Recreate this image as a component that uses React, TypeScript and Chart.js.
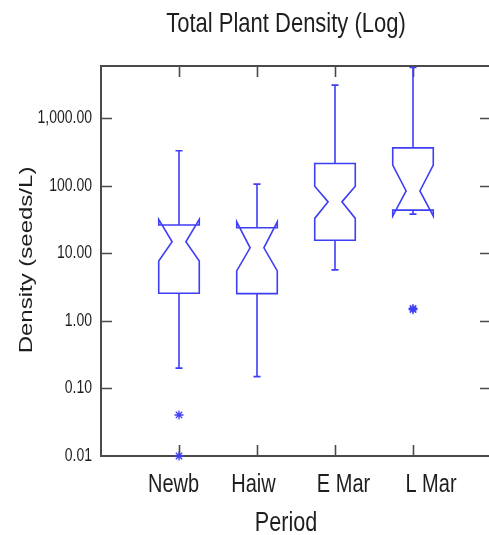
import React, { useEffect, useRef } from 'react';
import { Chart, registerables } from 'chart.js';

Chart.register(...registerables);

// ---- data ----
const categories = ['Newb', 'Haiw', 'E Mar', 'L Mar'];
const whiskerLow = [0.2, 0.15, 5.7, 38.2];
const q1 = [2.57, 2.54, 15.7, 43.8];
const median = [14.9, 12.1, 58, 84];
const q3 = [26.3, 24, 215, 366];
const whiskerHigh = [331, 106, 3100, 5670];
const notchLow = [7.7, 5.5, 33, 35.7];
const notchHigh = [31.9, 29.4, 99, 203];
const outliers: number[][] = [[0.0405, 0.01], [], [], [1.47, 1.53]];
const yTicks = [0.01, 0.1, 1, 10, 100, 1000];
const yTickLabels = ['0.01', '0.10', '1.00', '10.00', '100.00', '1,000.00'];
const yMin = 0.01;
const yMax = 5960;
const xMin = 0;
const xMax = 5;
const titleText = 'Total Plant Density (Log)';
const xTitleText = 'Period';
const yTitleText = 'Density (seeds/L)';

// ---- styles / layout ----
const BLUE = 'rgb(62,62,245)';
const FRAME = '#4a4a4a';
const TEXT = '#1e1e1e';
const FONT = '"Liberation Sans", Arial, sans-serif';
const SQ = 0.8; // horizontal condensation of text
const BOX_HALF = 0.26;
const NOTCH_RATIO = 0.34;
const CAP_HALF = 0.045;
const TICK_LEN = 11;
const catLabelOffsets = [-5.5, -3.5, 8.5, 18];
const AREA = { left: 101, right: 491, top: 66, bottom: 456 };

function sText(
  ctx: CanvasRenderingContext2D,
  s: string,
  x: number,
  y: number,
  size: number,
  align: CanvasTextAlign,
  baseline: CanvasTextBaseline,
  rotate = false
) {
  ctx.save();
  ctx.translate(x, y);
  if (rotate) {
    ctx.rotate(-Math.PI / 2);
    ctx.scale(1, SQ);
  } else {
    ctx.scale(SQ, 1);
  }
  ctx.font = `${size}px ${FONT}`;
  ctx.fillStyle = TEXT;
  ctx.textAlign = align;
  ctx.textBaseline = baseline;
  ctx.fillText(s, 0, 0);
  ctx.restore();
}

const framePlugin = {
  id: 'frameAndText',
  afterLayout(chart: any) {
    const ca = chart.chartArea;
    Object.assign(ca, AREA);
    ca.width = AREA.right - AREA.left;
    ca.height = AREA.bottom - AREA.top;
    const x = chart.scales.x;
    x.left = AREA.left;
    x.right = AREA.right;
    x.width = AREA.right - AREA.left;
    x.configure();
    const y = chart.scales.y;
    y.top = AREA.top;
    y.bottom = AREA.bottom;
    y.height = AREA.bottom - AREA.top;
    y.configure();
  },
  beforeDatasetsDraw(chart: any) {
    const { ctx, chartArea, scales } = chart;
    const x = scales.x;
    const y = scales.y;
    const { left, right, top, bottom } = chartArea;
    ctx.save();
    ctx.strokeStyle = FRAME;
    ctx.lineWidth = 2;
    ctx.beginPath();
    ctx.moveTo(left, top);
    ctx.lineTo(right, top);
    ctx.lineTo(right, bottom);
    ctx.lineTo(left, bottom);
    ctx.closePath();
    ctx.stroke();
    ctx.lineWidth = 1.6;
    ctx.beginPath();
    yTicks.forEach((v) => {
      const py = Math.round(y.getPixelForValue(v)) + 0.5;
      if (v !== yMin) {
        ctx.moveTo(left, py);
        ctx.lineTo(left + TICK_LEN, py);
        ctx.moveTo(right, py);
        ctx.lineTo(right - TICK_LEN, py);
      }
    });
    categories.forEach((_, i) => {
      const px = Math.round(x.getPixelForValue(i + 1)) + 0.5;
      ctx.moveTo(px, top);
      ctx.lineTo(px, top + TICK_LEN);
      ctx.moveTo(px, bottom);
      ctx.lineTo(px, bottom - TICK_LEN);
    });
    ctx.stroke();
    ctx.restore();

    // texts
    yTicks.forEach((v, i) => {
      sText(ctx, yTickLabels[i], left - 9, y.getPixelForValue(v), 17.5, 'right', 'middle');
    });
    categories.forEach((c, i) => {
      sText(ctx, c, x.getPixelForValue(i + 1) + catLabelOffsets[i], 492, 25, 'center', 'alphabetic');
    });
    sText(ctx, titleText, 286, 32, 27.5, 'center', 'alphabetic');
    sText(ctx, xTitleText, 286, 531, 27, 'center', 'alphabetic');
    sText(ctx, yTitleText, 32, 260, 24, 'center', 'alphabetic', true);
  },
  afterDatasetsDraw(chart: any) {
    const { ctx, scales } = chart;
    const x = scales.x;
    const y = scales.y;
    const Y = (v: number) => y.getPixelForValue(v);
    ctx.save();
    ctx.strokeStyle = BLUE;
    ctx.lineWidth = 1.6;
    ctx.lineJoin = 'miter';
    categories.forEach((_, i) => {
      const cx = x.getPixelForValue(i + 1);
      const hw = x.getPixelForValue(i + 1 + BOX_HALF) - cx;
      const nw = hw * NOTCH_RATIO;
      const cw = x.getPixelForValue(i + 1 + CAP_HALF) - cx;
      ctx.beginPath();
      // upper whisker
      ctx.moveTo(cx, Y(q3[i]));
      ctx.lineTo(cx, Y(whiskerHigh[i]));
      ctx.moveTo(cx - cw, Y(whiskerHigh[i]));
      ctx.lineTo(cx + cw, Y(whiskerHigh[i]));
      // lower whisker
      ctx.moveTo(cx, Y(q1[i]));
      ctx.lineTo(cx, Y(whiskerLow[i]));
      ctx.moveTo(cx - cw, Y(whiskerLow[i]));
      ctx.lineTo(cx + cw, Y(whiskerLow[i]));
      ctx.stroke();
      // notched box
      ctx.beginPath();
      ctx.moveTo(cx - hw, Y(q3[i]));
      ctx.lineTo(cx - hw, Y(notchHigh[i]));
      ctx.lineTo(cx - nw, Y(median[i]));
      ctx.lineTo(cx - hw, Y(notchLow[i]));
      ctx.lineTo(cx - hw, Y(q1[i]));
      ctx.lineTo(cx + hw, Y(q1[i]));
      ctx.lineTo(cx + hw, Y(notchLow[i]));
      ctx.lineTo(cx + nw, Y(median[i]));
      ctx.lineTo(cx + hw, Y(notchHigh[i]));
      ctx.lineTo(cx + hw, Y(q3[i]));
      ctx.closePath();
      ctx.stroke();
    });
    ctx.restore();
  },
};

export default function App() {
  const ref = useRef<HTMLCanvasElement | null>(null);
  useEffect(() => {
    if (!ref.current) return;
    const outlierData = outliers.flatMap((arr, i) => arr.map((v) => ({ x: i + 1, y: v })));
    const chart = new Chart(ref.current, {
      type: 'scatter',
      data: {
        datasets: [
          {
            label: 'Outliers',
            data: outlierData,
            pointStyle: 'star',
            radius: 4.5,
            borderColor: BLUE,
            backgroundColor: BLUE,
            borderWidth: 1.3,
            clip: false as any,
          },
        ],
      },
      options: {
        responsive: false,
        animation: false,
        devicePixelRatio: 1,
        layout: { padding: { top: 66, right: 0, left: 0, bottom: 0 } },
        plugins: { legend: { display: false }, title: { display: false }, tooltip: { enabled: false } },
        scales: {
          x: {
            type: 'linear',
            min: xMin,
            max: xMax,
            grid: { display: false, drawTicks: false },
            border: { display: false },
            ticks: { display: false },
            afterFit: (s: any) => {
              s.height = 79;
            },
          },
          y: {
            type: 'logarithmic',
            min: yMin,
            max: yMax,
            grid: { display: false, drawTicks: false },
            border: { display: false },
            ticks: { display: false },
            afterBuildTicks: (s: any) => {
              s.ticks = yTicks.map((v) => ({ value: v }));
            },
            afterFit: (s: any) => {
              s.width = 101;
            },
          },
        },
      },
      plugins: [framePlugin],
    });
    return () => chart.destroy();
  }, []);
  return (
    <div style={{ position: 'absolute', left: 0, top: 0, width: 489, height: 535, overflow: 'hidden' }}>
      <canvas ref={ref} width={489} height={535} style={{ display: 'block' }} />
    </div>
  );
}
